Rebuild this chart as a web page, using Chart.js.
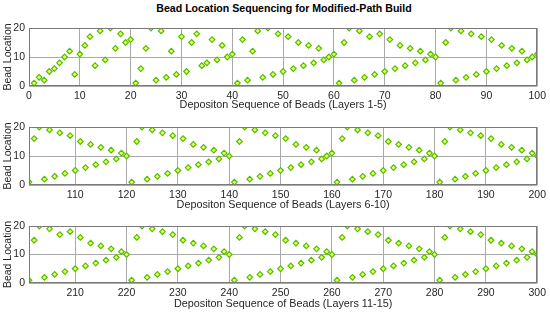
<!DOCTYPE html>
<html>
<head>
<meta charset="utf-8">
<script src="https://cdn.jsdelivr.net/npm/chart.js@4.4.1/dist/chart.umd.min.js"></script>
<style>
body { margin: 0; background: #fff; width: 550px; height: 313px; position: relative; overflow: hidden; }
canvas { position: absolute; left: 0; }
#title { position: absolute; left: 29px; width: 510px; top: 2px; text-align: center;
  font: bold 10.6px "Liberation Sans", Arial, sans-serif; line-height: 13px; color: #000; }
</style>
</head>
<body>
<div id="title">Bead Location Sequencing for Modified-Path Build</div>
<canvas id="chart1" width="550" height="113" style="top:0"></canvas>
<canvas id="chart2" width="550" height="99" style="top:113px"></canvas>
<canvas id="chart3" width="550" height="101" style="top:212px"></canvas>
<script>
// bead location for each bead in deposition order (20 beads per layer)
var layers1to5 = [
    1, 3, 2, 5, 6, 8, 10, 12, 4, 11, 14, 17, 7, 19, 9, 20, 13, 18, 15, 16,
    1, 6, 13, 20, 2, 19, 3, 12, 4, 17, 5, 15, 18, 7, 8, 16, 9, 14, 10, 11,
    1, 16, 2, 12, 19, 3, 20, 4, 18, 5, 17, 6, 15, 7, 14, 8, 13, 9, 10, 11,
    1, 15, 20, 2, 19, 3, 17, 4, 18, 5, 16, 6, 14, 7, 13, 8, 12, 9, 11, 10,
    1, 15, 20, 2, 19, 3, 18, 4, 17, 5, 16, 6, 14, 7, 13, 8, 12, 9, 10, 11
];
var layers6to10 = [
    1, 16, 20, 2, 19, 3, 18, 4, 17, 5, 15, 6, 14, 7, 13, 8, 12, 9, 11, 10,
    1, 15, 20, 2, 19, 3, 18, 4, 17, 5, 16, 6, 14, 7, 13, 8, 12, 9, 11, 10,
    1, 15, 20, 2, 19, 3, 18, 4, 17, 5, 16, 6, 14, 7, 13, 8, 12, 9, 10, 11,
    1, 16, 20, 2, 19, 3, 18, 4, 17, 5, 15, 6, 14, 7, 13, 8, 12, 9, 11, 10,
    1, 15, 20, 2, 19, 3, 18, 4, 17, 5, 16, 6, 14, 7, 13, 8, 12, 9, 11, 10
];
var layers11to15 = [
    1, 15, 20, 2, 19, 3, 17, 4, 18, 5, 16, 6, 14, 7, 13, 8, 12, 9, 11, 10,
    1, 16, 20, 2, 19, 3, 18, 4, 17, 5, 15, 6, 14, 7, 13, 8, 12, 9, 11, 10,
    1, 16, 20, 2, 19, 3, 18, 4, 17, 5, 15, 6, 14, 7, 13, 8, 12, 9, 11, 10,
    1, 16, 20, 2, 19, 3, 18, 4, 17, 5, 15, 6, 14, 7, 13, 8, 12, 9, 11, 10,
    1, 16, 20, 2, 19, 3, 18, 4, 17, 5, 15, 6, 14, 7, 13, 8, 12, 9, 11, 10
];
var firstBeads = [1, 101, 201];
var xRanges = [[0, 100], [101, 200], [201, 300]];
var xTicks1 = [0, 10, 20, 30, 40, 50, 60, 70, 80, 90, 100];
var xTicks2 = [110, 120, 130, 140, 150, 160, 170, 180, 190, 200];
var xTicks3 = [210, 220, 230, 240, 250, 260, 270, 280, 290, 300];
var yTicks = [0, 10, 20];
var xTitles = [
    'Depositon Sequence of Beads (Layers 1-5)',
    'Depositon Sequence of Beads (Layers 6-10)',
    'Depositon Sequence of Beads (Layers 11-15)'
];

var FONT = '"Liberation Sans", Arial, sans-serif';

// box around the plot area
var frameBox = {
    id: 'frameBox',
    afterDraw: function (chart) {
        var a = chart.chartArea, ctx = chart.ctx;
        ctx.save();
        ctx.strokeStyle = '#7a7a7a';
        ctx.lineWidth = 1;
        ctx.strokeRect(Math.round(a.left) + 0.5, Math.round(a.top) + 0.5,
            Math.round(a.right - a.left) - 1, Math.round(a.bottom - a.top) - 1);
        ctx.restore();
    }
};

function makePanel(id, firstBead, values, range, ticks, title, padTop, axisH, titlePad) {
    var points = values.map(function (v, i) { return {x: firstBead + i, y: v}; });
    return new Chart(document.getElementById(id).getContext('2d'), {
        type: 'scatter',
        data: {
            datasets: [{
                data: points,
                pointStyle: 'rectRot',
                pointRadius: 2.8,
                borderWidth: 1.2,
                borderColor: '#4fbf00',
                backgroundColor: '#eeff66'
            }]
        },
        options: {
            responsive: false,
            animation: false,
            layout: {padding: {top: padTop, right: 11, bottom: 0, left: 0}},
            plugins: {legend: {display: false}, tooltip: {enabled: false}},
            scales: {
                x: {
                    type: 'linear',
                    min: range[0],
                    max: range[1],
                    afterBuildTicks: function (s) { s.ticks = ticks.map(function (v) { return {value: v}; }); },
                    afterFit: function (s) { s.height = axisH; },
                    border: {display: false},
                    grid: {color: '#aaaaaa', drawTicks: false},
                    ticks: {padding: 4, maxRotation: 0, autoSkip: false, color: '#262626', font: {family: FONT, size: 10.5}},
                    title: {display: true, text: title, color: '#262626', padding: {top: 0, bottom: titlePad},
                        font: {family: FONT, size: 10.8}}
                },
                y: {
                    min: 0,
                    max: 20,
                    afterBuildTicks: function (s) { s.ticks = yTicks.map(function (v) { return {value: v}; }); },
                    afterFit: function (s) { s.width = 29; },
                    border: {display: false},
                    grid: {color: '#aaaaaa', drawTicks: false},
                    ticks: {padding: 4, color: '#262626', font: {family: FONT, size: 10.5}},
                    title: {display: true, text: 'Bead Location', color: '#262626', padding: {top: 2, bottom: 0},
                        font: {family: FONT, size: 10.5}}
                }
            }
        },
        plugins: [frameBox]
    });
}

makePanel('chart1', firstBeads[0], layers1to5, xRanges[0], xTicks1, xTitles[0], 28, 27, 1);
makePanel('chart2', firstBeads[1], layers6to10, xRanges[1], xTicks2, xTitles[1], 14, 27, 0);
makePanel('chart3', firstBeads[2], layers11to15, xRanges[2], xTicks3, xTitles[2], 14, 30, 2);
</script>
</body>
</html>
